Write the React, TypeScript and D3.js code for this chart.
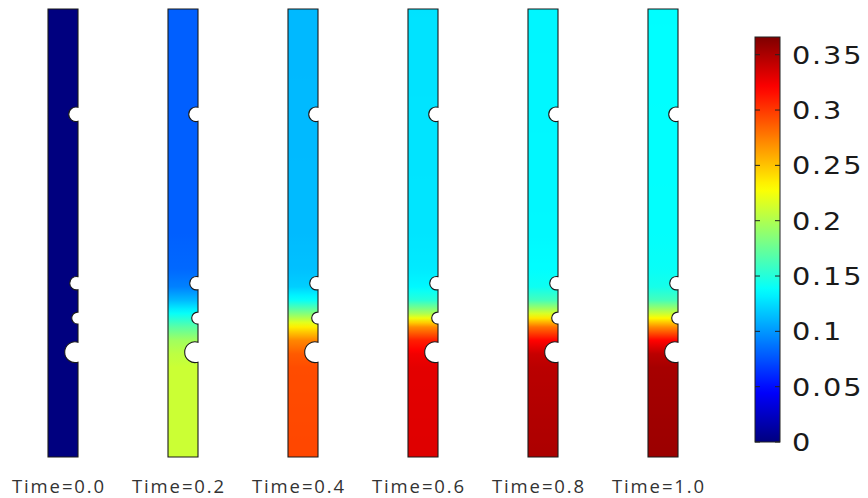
import React from "react";
import * as d3 from "d3";

// Sample times shown in the panel row
const times = ["0.0", "0.2", "0.4", "0.6", "0.8", "1.0"];

// Relative depth along each specimen (0 = top edge, 1 = bottom edge)
const depth = [0, 0.5, 0.58, 0.62, 0.65, 0.68, 0.71, 0.74, 0.77, 0.8, 1];

// Concentration profiles along the specimen at each time
const conc00 = [0, 0, 0, 0, 0, 0, 0, 0, 0, 0, 0];
const conc02 = [0.08, 0.08, 0.083, 0.092, 0.112, 0.14, 0.17, 0.195, 0.205, 0.21, 0.21];
const conc04 = [0.112, 0.113, 0.115, 0.12, 0.14, 0.185, 0.235, 0.272, 0.288, 0.293, 0.295];
const conc06 = [0.127, 0.128, 0.13, 0.135, 0.152, 0.2, 0.27, 0.31, 0.325, 0.33, 0.332];
const conc08 = [0.134, 0.135, 0.137, 0.142, 0.162, 0.215, 0.28, 0.32, 0.34, 0.345, 0.35];
const conc10 = [0.137, 0.138, 0.14, 0.145, 0.162, 0.21, 0.27, 0.32, 0.345, 0.352, 0.356];
const profiles = [conc00, conc02, conc04, conc06, conc08, conc10];

// Colour bar
const colorTicks = [0, 0.05, 0.1, 0.15, 0.2, 0.25, 0.3, 0.35];
const colorMax = 0.366;

// Notches cut into the right-hand edge: relative depth, radius, inset of circle centre
const notchDepth = [0.235, 0.612, 0.69, 0.766];
const notchRadius = [7.3, 6.7, 6, 10.4];
const notchInset = [2, 1.6, 0.3, 2.9];

const W = 868;
const H = 498;
const stripW = 30;

// Jet colour map
const jetStops = [0, 0.125, 0.375, 0.625, 0.875, 1];
const jetColors = ["#00007f", "#0000ff", "#00ffff", "#ffff00", "#ff0000", "#7f0000"];
const jet = d3
  .scaleLinear<string>()
  .domain(jetStops.map((t) => t * colorMax))
  .range(jetColors)
  .interpolate(d3.interpolateRgb)
  .clamp(true);

const xScale = d3.scalePoint<string>().domain(times).range([63, 663]);
const yStrip = d3.scaleLinear().domain([0, 1]).range([9, 457]);
const yBar = d3.scaleLinear().domain([0, colorMax]).range([442, 37]);

function stripPath(x0: number, x1: number): string {
  const y0 = yStrip(0);
  const y1 = yStrip(1);
  let p = `M${x0},${y0}H${x1}`;
  notchDepth.forEach((f, i) => {
    const cy = yStrip(f);
    const r = notchRadius[i];
    const d = notchInset[i];
    const h = Math.sqrt(r * r - d * d);
    p += `V${cy - h}A${r},${r} 0 1 0 ${x1},${cy + h}`;
  });
  p += `V${y1}H${x0}Z`;
  return p;
}

export default function App() {
  const samples = d3.range(0, 1.0001, 0.01);
  const barSamples = d3.range(0, 1.0001, 0.02);
  return (
    <svg
      width={W}
      height={H}
      style={{ position: "absolute", left: 0, top: 0, background: "#fff" }}
    >
      <defs>
        {profiles.map((vals, i) => {
          const prof = d3.scaleLinear().domain(depth).range(vals);
          return (
            <linearGradient
              key={i}
              id={`prof${i}`}
              gradientUnits="userSpaceOnUse"
              x1={0}
              x2={0}
              y1={yStrip(0)}
              y2={yStrip(1)}
            >
              {samples.map((s) => (
                <stop key={s} offset={s} stopColor={jet(prof(s))} />
              ))}
            </linearGradient>
          );
        })}
        <linearGradient id="bar" x1={0} x2={0} y1={1} y2={0}>
          {barSamples.map((s) => (
            <stop key={s} offset={s} stopColor={jet(s * colorMax)} />
          ))}
        </linearGradient>
      </defs>

      {times.map((t, i) => {
        const cx = xScale(t)!;
        const x0 = cx - stripW / 2;
        const x1 = cx + stripW / 2;
        return (
          <g key={t}>
            <path
              d={stripPath(x0, x1)}
              fill={`url(#prof${i})`}
              stroke="#1b1b1b"
              strokeWidth={1.1}
            />
            <text
              x={cx - 4}
              y={493}
              textAnchor="middle"
              fontFamily="'Open Sans', sans-serif"
              fontSize={18.5}
              letterSpacing={1.9}
              fill="#333"
            >
              {`Time=${t}`}
            </text>
          </g>
        );
      })}

      {/* colour bar */}
      <rect
        x={755}
        y={yBar(colorMax)}
        width={25}
        height={yBar(0) - yBar(colorMax)}
        fill="url(#bar)"
        stroke="#222"
        strokeWidth={1}
      />
      {colorTicks.map((v) => (
        <g key={v}>
          <line x1={755} x2={760} y1={yBar(v)} y2={yBar(v)} stroke="#222" strokeWidth={1} />
          <line x1={775} x2={780} y1={yBar(v)} y2={yBar(v)} stroke="#222" strokeWidth={1} />
          <text
            transform={`translate(792,${yBar(v) + 9}) scale(1.2,1)`}
            fontFamily="'DejaVu Sans', sans-serif"
            fontSize={24}
            letterSpacing={1.5}
            fill="#1a1a1a"
          >
            {String(+v.toFixed(2))}
          </text>
        </g>
      ))}
    </svg>
  );
}
